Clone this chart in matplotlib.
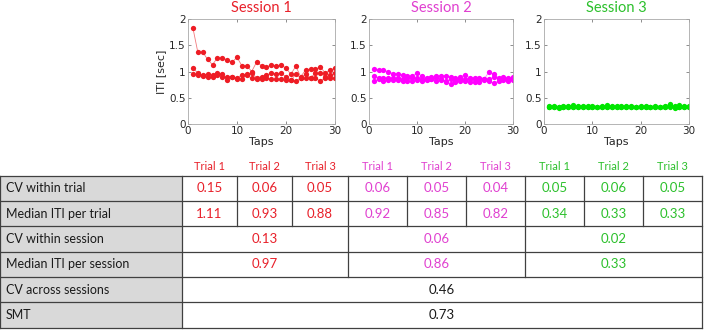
import matplotlib
matplotlib.use("Agg")
import matplotlib.pyplot as plt
from matplotlib.patches import Rectangle

# ---- data ---------------------------------------------------------------- #
taps = list(range(1, 31))

s1_t1 = [1.83, 1.37, 1.37, 1.23, 1.13, 1.26, 1.26, 1.22, 1.18, 1.27,
         1.11, 1.11, 1.00, 1.18, 1.11, 1.08, 1.13, 1.10, 1.13, 1.06,
         0.95, 1.10, 0.90, 1.03, 1.04, 1.04, 1.09, 0.97, 1.03, 1.06]
s1_t2 = [1.07, 0.97, 0.93, 0.95, 0.93, 0.97, 0.96, 0.83, 0.90, 0.88,
         0.93, 0.95, 0.97, 0.88, 0.90, 0.93, 0.97, 0.95, 0.97, 0.90,
         0.83, 0.95, 0.88, 0.95, 0.88, 0.97, 0.97, 0.90, 0.93, 0.97]
s1_t3 = [0.95, 0.93, 0.92, 0.90, 0.90, 0.94, 0.90, 0.90, 0.90, 0.85,
         0.86, 0.93, 0.87, 0.86, 0.86, 0.88, 0.85, 0.85, 0.86, 0.83,
         0.83, 0.82, 0.87, 0.88, 0.88, 0.87, 0.82, 0.88, 0.88, 0.87]

s2_t1 = [1.05, 1.03, 1.02, 1.00, 0.96, 0.96, 0.93, 0.92, 0.92, 0.97,
         0.92, 0.88, 0.90, 0.92, 0.92, 0.92, 0.90, 0.88, 0.90, 0.94,
         0.88, 0.88, 0.88, 0.86, 0.99, 0.95, 0.88, 0.90, 0.88, 0.90]
s2_t2 = [0.92, 0.88, 0.88, 0.88, 0.88, 0.88, 0.85, 0.88, 0.88, 0.88,
         0.86, 0.86, 0.86, 0.88, 0.85, 0.82, 0.85, 0.83, 0.85, 0.85,
         0.85, 0.85, 0.86, 0.86, 0.85, 0.90, 0.85, 0.86, 0.86, 0.88]
s2_t3 = [0.82, 0.85, 0.82, 0.84, 0.83, 0.84, 0.82, 0.82, 0.82, 0.84,
         0.82, 0.84, 0.85, 0.82, 0.84, 0.80, 0.77, 0.80, 0.82, 0.82,
         0.80, 0.80, 0.80, 0.84, 0.82, 0.78, 0.82, 0.84, 0.82, 0.84]

s3_t1 = [0.34, 0.35, 0.33, 0.35, 0.34, 0.36, 0.34, 0.35, 0.34, 0.34,
         0.33, 0.34, 0.36, 0.35, 0.34, 0.35, 0.34, 0.35, 0.33, 0.34,
         0.34, 0.33, 0.34, 0.33, 0.35, 0.38, 0.34, 0.36, 0.34, 0.35]
s3_t2 = [0.32, 0.33, 0.33, 0.32, 0.33, 0.33, 0.32, 0.33, 0.32, 0.33,
         0.32, 0.33, 0.33, 0.33, 0.32, 0.33, 0.33, 0.32, 0.32, 0.33,
         0.33, 0.33, 0.32, 0.33, 0.33, 0.34, 0.32, 0.33, 0.33, 0.33]
s3_t3 = [0.33, 0.32, 0.31, 0.33, 0.33, 0.32, 0.33, 0.32, 0.33, 0.32,
         0.33, 0.32, 0.33, 0.32, 0.33, 0.33, 0.33, 0.32, 0.33, 0.32,
         0.33, 0.32, 0.33, 0.32, 0.32, 0.33, 0.31, 0.33, 0.33, 0.33]

sessions = ["Session 1", "Session 2", "Session 3"]
session_trials = [[s1_t1, s1_t2, s1_t3], [s2_t1, s2_t2, s2_t3], [s3_t1, s3_t2, s3_t3]]
marker_colors = ["#ee1c24", "#ff00ff", "#00e600"]
line_colors = ["#f27a7e", "#ff80ff", "#80f080"]
text_colors = ["#e8202a", "#e040d0", "#2cc02c"]

trial_names = ["Trial 1", "Trial 2", "Trial 3"]
row_labels = ["CV within trial", "Median ITI per trial", "CV within session",
              "Median ITI per session", "CV across sessions", "SMT"]
cv_trial = [["0.15", "0.06", "0.05"], ["0.06", "0.05", "0.04"], ["0.05", "0.06", "0.05"]]
median_trial = [["1.11", "0.93", "0.88"], ["0.92", "0.85", "0.82"], ["0.34", "0.33", "0.33"]]
cv_session = ["0.13", "0.06", "0.02"]
median_session = ["0.97", "0.86", "0.33"]
cv_across = "0.46"
smt = "0.73"

# ---- layout (pixels of a 704x331 canvas) --------------------------------- #
W, H = 704, 331
plot_boxes = [(188, 335), (369, 513), (544, 689)]   # x-extent of each scatter
plot_top, plot_bottom = 19, 124
col_edges = [182, 237, 292, 348, 407, 466, 525, 584, 643, 702]
row_edges = [176, 201, 226, 252, 277, 302, 328]
label_font = "Lato"
cell_fs = 9.5

fig = plt.figure(figsize=(W / 100, H / 100), dpi=100)

for i, (x0, x1) in enumerate(plot_boxes):
    ax = fig.add_axes([x0 / W, 1 - plot_bottom / H, (x1 - x0) / W,
                       (plot_bottom - plot_top) / H])
    for tr in session_trials[i]:
        ax.plot(taps, tr, "-", color=line_colors[i], lw=0.6, zorder=1)
        ax.plot(taps, tr, "o", color=marker_colors[i], ms=3.8, mew=0, zorder=2)
    ax.set_xlim(0, 30)
    ax.set_ylim(0, 2)
    ax.set_xticks([0, 10, 20, 30])
    ax.set_yticks([0, 0.5, 1, 1.5, 2])
    ax.set_yticklabels(["0", "0.5", "1", "1.5", "2"])
    ax.tick_params(direction="in", length=2, width=0.5, labelsize=7.5,
                   colors="#606060", labelcolor="#262626", pad=1.5,
                   top=True, right=True)
    for sp in ax.spines.values():
        sp.set_color("#a8a8a8")
        sp.set_linewidth(0.6)
    ax.set_xlabel("Taps", fontsize=8, color="#262626", labelpad=1)
    if i == 0:
        ax.set_ylabel("ITI [sec]", fontsize=8, color="#262626", labelpad=2)
    ax.set_title(sessions[i], fontsize=10.5, color=text_colors[i],
                 family=label_font, pad=5)

# ---- table --------------------------------------------------------------- #
tab = fig.add_axes([0, 0, 1, 1])
tab.set_xlim(0, W)
tab.set_ylim(H, 0)
tab.axis("off")

edge = "#404040"
lw = 0.9
left, right = 0, col_edges[-1]

# grey label column
tab.add_patch(Rectangle((left, row_edges[0]), col_edges[0] - left,
                        row_edges[-1] - row_edges[0], facecolor="#d9d9d9",
                        edgecolor="none", zorder=0))
# horizontal rules
for y in row_edges:
    tab.plot([left, right], [y, y], color=edge, lw=lw)
# outer verticals and label boundary
for x in (left, col_edges[0], right):
    tab.plot([x, x], [row_edges[0], row_edges[-1]], color=edge, lw=lw)
# trial separators (rows 0-1)
for x in col_edges[1:-1]:
    tab.plot([x, x], [row_edges[0], row_edges[2]], color=edge, lw=lw)
# session separators (rows 2-3)
for x in (col_edges[3], col_edges[6]):
    tab.plot([x, x], [row_edges[2], row_edges[4]], color=edge, lw=lw)


def row_mid(r):
    return (row_edges[r] + row_edges[r + 1]) / 2


for r, lab in enumerate(row_labels):
    tab.text(6, row_mid(r), lab, ha="left", va="center", fontsize=9,
             family=label_font, color="#1a1a1a")

for s in range(3):
    c = text_colors[s]
    for t in range(3):
        k = s * 3 + t
        cx = (col_edges[k] + col_edges[k + 1]) / 2
        tab.text(cx, 167, trial_names[t], ha="center", va="center",
                 fontsize=8, family=label_font, color=c)
        tab.text(cx, row_mid(0), cv_trial[s][t], ha="center", va="center",
                 fontsize=cell_fs, family=label_font, color=c)
        tab.text(cx, row_mid(1), median_trial[s][t], ha="center",
                 va="center", fontsize=cell_fs, family=label_font, color=c)
    sx = (col_edges[3 * s] + col_edges[3 * s + 3]) / 2
    tab.text(sx, row_mid(2), cv_session[s], ha="center", va="center",
             fontsize=cell_fs, family=label_font, color=c)
    tab.text(sx, row_mid(3), median_session[s], ha="center", va="center",
             fontsize=cell_fs, family=label_font, color=c)

mid_all = (col_edges[0] + col_edges[-1]) / 2
tab.text(mid_all, row_mid(4), cv_across, ha="center", va="center",
         fontsize=cell_fs, family=label_font, color="#1a1a1a")
tab.text(mid_all, row_mid(5), smt, ha="center", va="center",
         fontsize=cell_fs, family=label_font, color="#1a1a1a")

fig.savefig("out.png", dpi=100)
